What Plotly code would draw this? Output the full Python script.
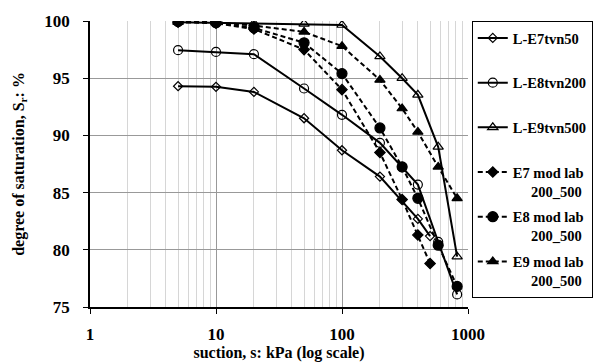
import plotly.graph_objects as go

# ---- data ----
x_e7tvn50 = [5, 10, 20, 50, 100, 200, 400, 500]
y_e7tvn50 = [94.3, 94.25, 93.8, 91.5, 88.7, 86.4, 82.7, 81.2]

x_e8tvn200 = [5, 10, 20, 50, 100, 200, 300, 400, 580, 820]
y_e8tvn200 = [97.45, 97.3, 97.1, 94.1, 91.8, 89.35, 87.2, 85.7, 80.7, 76.1]

x_e9tvn500 = [5, 10, 20, 50, 100, 200, 300, 400, 580, 820]
y_e9tvn500 = [99.9, 99.85, 99.8, 99.75, 99.65, 96.9, 95.0, 93.55, 89.0, 79.4]

x_e7mod = [5, 10, 20, 50, 100, 200, 300, 400, 500]
y_e7mod = [99.9, 99.8, 99.3, 97.5, 94.0, 88.5, 84.4, 81.3, 78.8]

x_e8mod = [5, 10, 20, 50, 100, 200, 300, 400, 580, 820]
y_e8mod = [99.95, 99.85, 99.4, 98.1, 95.4, 90.65, 87.25, 84.5, 80.4, 76.8]

x_e9mod = [5, 10, 20, 50, 100, 200, 300, 400, 580, 820]
y_e9mod = [99.95, 99.9, 99.6, 99.05, 97.8, 94.85, 92.35, 90.3, 87.25, 84.5]

names = ["L-E7tvn50", "L-E8tvn200", "L-E9tvn500",
         "E7 mod lab", "E8 mod lab", "E9 mod lab"]
second_line = "200_500"

x_ticks = [1, 10, 100, 1000]
y_ticks = [75, 80, 85, 90, 95, 100]

FONT = "Liberation Serif"
NB = "\u00a0"

fig = go.Figure()

series = [
    (x_e7tvn50, y_e7tvn50, names[0], "diamond-open", 7, "solid"),
    (x_e8tvn200, y_e8tvn200, names[1], "circle-open", 9, "solid"),
    (x_e9tvn500, y_e9tvn500, names[2], "triangle-up-open", 9, "solid"),
    (x_e7mod, y_e7mod, names[3], "diamond", 8, "dash"),
    (x_e8mod, y_e8mod, names[4], "circle", 10, "dash"),
    (x_e9mod, y_e9mod, names[5], "triangle-up", 9, "dash"),
]

for i, (xs, ys, nm, sym, sz, dash) in enumerate(series):
    if dash == "dash":
        label = nm + "<br>" + NB * 5 + second_line
    else:
        label = nm + "<br>" + NB
    fig.add_trace(go.Scatter(
        x=xs, y=ys, name=label, mode="lines+markers",
        legendgroup=f"g{i}",
        line=dict(color="black", width=2, dash="solid" if dash == "solid" else "5px,3px"),
        marker=dict(symbol=sym, size=sz, color="black",
                    line=dict(color="black", width=1.2)),
    ))

fig.update_layout(
    width=600, height=362,
    margin=dict(l=90, r=132, t=21, b=55, autoexpand=False),
    paper_bgcolor="white", plot_bgcolor="white",
    font=dict(family=FONT, color="black"),
    showlegend=True,
    legend=dict(
        x=1.01, xanchor="left", y=1.0, yanchor="top",
        bordercolor="black", borderwidth=1,
        font=dict(family=FONT, size=14.5, color="black", weight="bold"),
        itemwidth=30, valign="top", tracegroupgap=4,
    ),
)

fig.update_xaxes(
    type="log", range=[0, 3], automargin=False,
    tickvals=x_ticks, ticktext=[str(v) for v in x_ticks],
    tickfont=dict(family=FONT, size=17, weight="bold"),
    ticks="outside", ticklen=5, tickcolor="black", tickwidth=1,
    ticklabelstandoff=6,
    showline=True, linecolor="black", linewidth=1.5,
    showgrid=True, gridcolor="#999999", gridwidth=1,
    minor=dict(showgrid=True, gridcolor="#d6d6d6", gridwidth=1,
               dtick="D1", ticks=""),
    zeroline=False,
    title=dict(text="suction, s: kPa (log scale)",
               font=dict(family=FONT, size=16, weight="bold"), standoff=2),
)

fig.update_yaxes(
    range=[75, 100], automargin=False,
    tickvals=y_ticks,
    tickfont=dict(family=FONT, size=17, weight="bold"),
    ticks="outside", ticklen=5, tickcolor="black", tickwidth=1,
    ticklabelstandoff=10,
    showline=True, linecolor="black", linewidth=1.5,
    showgrid=True, gridcolor="#999999", gridwidth=1,
    zeroline=False,
    title=dict(text="degree of saturation, S<sub>r</sub>: %",
               font=dict(family=FONT, size=16, weight="bold"), standoff=16),
)

fig.write_html("out.html", config={"displayModeBar": False},
               post_script="document.body.style.margin='0';")
